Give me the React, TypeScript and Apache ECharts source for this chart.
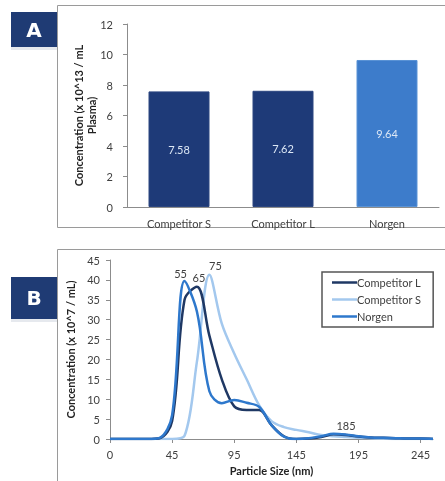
import React, { useEffect, useRef } from "react";
import * as echarts from "echarts";

// Panel A data
const barCategories = ["Competitor S", "Competitor L", "Norgen"];
const barValues = [7.58, 7.62, 9.64];
const barColors = ["#1E3A78", "#1E3A78", "#3D7CCB"];
const barYTicks = [0, 2, 4, 6, 8, 10, 12];

// Panel B data (particle size categories, nm)
const sizeCategories = [
  "0", "5", "15", "25", "35", "45", "55", "65", "75", "85", "95", "105", "115", "125",
  "135", "145", "155", "165", "175", "185", "195", "205", "215", "225", "235", "245", "255",
];
const competitorL = [
  0, 0, 0, 0, 0.2, 4.5, 35, 38.3, 26, 15, 8.2, 7.3, 7.3, 3.5,
  0.7, 0, 0.1, 0.5, 1.2, 1.0, 0.6, 0.4, 0.3, 0.2, 0.1, 0.1, 0,
];
const competitorS = [
  0, 0, 0, 0, 0, 0, 0.8, 19.5, 41.3, 29, 21.5, 15, 8.5, 4.5,
  3, 2.3, 1.7, 1.0, 0.7, 0.5, 0.3, 0.2, 0.1, 0, 0, 0, 0,
];
const norgen = [
  0, 0, 0, 0, 0.3, 6, 39.7, 32, 12, 9.0, 9.8, 9.1, 8.1, 3.5,
  0.6, 0, 0.2, 0.7, 1.3, 1.1, 0.7, 0.4, 0.3, 0.2, 0.1, 0.1, 0,
];
const lineYTicks = [0, 5, 10, 15, 20, 25, 30, 35, 40, 45];

const FONT = "Lato, 'Open Sans', sans-serif";

function withLabels(values: number[], labels: { [i: number]: number[] }) {
  return values.map((v, i) => {
    if (labels[i]) {
      return {
        value: v,
        label: {
          show: true,
          position: "top",
          distance: 4,
          formatter: "{b}",
          offset: labels[i],
          color: "#404040",
          fontSize: 11,
          fontFamily: FONT,
        },
      };
    }
    return v;
  });
}

const LEGEND_ICON = "path://M0,0 L25,0 L25,2.5 L0,2.5 Z";

export default function App() {
  const ref = useRef<HTMLDivElement>(null);
  useEffect(() => {
    if (!ref.current) return;
    const chart = echarts.init(ref.current, null, { renderer: "svg" });
    const axisLineColor = "#8c8c8c";
    const labelColor = "#404040";
    const lineSeries = (name: string, color: string, data: any[], z: number) => ({
      name,
      type: "line",
      xAxisIndex: 1,
      yAxisIndex: 1,
      symbol: "circle",
      symbolSize: 0,
      showSymbol: true,
      smooth: 0.35,
      lineStyle: { color, width: 2.5 },
      itemStyle: { color },
      label: { show: false },
      data,
      z,
    });
    chart.setOption({
      animation: false,
      textStyle: { fontFamily: FONT },
      graphic: [
        { type: "rect", shape: { x: 57.5, y: 5.5, width: 400, height: 222 }, style: { fill: "none", stroke: "#9a9a9a", lineWidth: 1 } },
        { type: "rect", shape: { x: 57.5, y: 249.5, width: 400, height: 240 }, style: { fill: "none", stroke: "#9a9a9a", lineWidth: 1 } },
        { type: "rect", shape: { x: 11, y: 12, width: 46, height: 35 }, style: { fill: "#1F3B74" } },
        { type: "rect", shape: { x: 11, y: 47, width: 46, height: 3 }, style: { fill: "#e6e9ee" } },
        { type: "text", x: 34, y: 30, style: { text: "A", fill: "#ffffff", font: "bold 20px 'DejaVu Sans', sans-serif", align: "center", verticalAlign: "middle" } },
        { type: "rect", shape: { x: 11, y: 277, width: 46, height: 42 }, style: { fill: "#1F3B74" } },
        { type: "rect", shape: { x: 11, y: 319, width: 46, height: 3 }, style: { fill: "#e6e9ee" } },
        { type: "text", x: 34, y: 298, style: { text: "B", fill: "#ffffff", font: "bold 20px 'DejaVu Sans', sans-serif", align: "center", verticalAlign: "middle" } },
      ],
      legend: {
        data: ["Competitor L", "Competitor S", "Norgen"],
        orient: "vertical",
        left: 322,
        top: 272,
        padding: [5, 12, 5, 10],
        itemGap: 6,
        itemWidth: 25,
        itemHeight: 3,
        icon: LEGEND_ICON,
        borderColor: "#555555",
        borderWidth: 1.5,
        textStyle: { color: labelColor, fontSize: 11, fontFamily: FONT, padding: [0, 0, 0, -5] },
      },
      grid: [
        { left: 127, top: 24, width: 312, height: 183 },
        { left: 110, top: 260, width: 323, height: 179 },
      ],
      xAxis: [
        {
          type: "category",
          gridIndex: 0,
          data: barCategories,
          axisLine: { lineStyle: { color: axisLineColor } },
          axisTick: { length: 4, lineStyle: { color: axisLineColor } },
          axisLabel: { color: labelColor, fontSize: 11, margin: 11, fontFamily: FONT },
        },
        {
          type: "category",
          gridIndex: 1,
          data: sizeCategories,
          boundaryGap: false,
          axisLine: { lineStyle: { color: axisLineColor } },
          axisTick: { length: 4, interval: 4, lineStyle: { color: axisLineColor } },
          axisLabel: { color: labelColor, fontSize: 11, margin: 10, interval: 4, fontFamily: FONT },
          name: "Particle Size (nm)",
          nameLocation: "middle",
          nameGap: 26,
          nameMoveOverlap: false,
          nameTextStyle: { color: "#222", fontSize: 11, fontWeight: "bold", fontFamily: FONT },
        },
      ],
      yAxis: [
        {
          type: "value",
          gridIndex: 0,
          min: barYTicks[0],
          max: barYTicks[barYTicks.length - 1],
          interval: 2,
          splitLine: { show: false },
          axisLine: { show: true, lineStyle: { color: axisLineColor } },
          axisTick: { show: true, length: 4, lineStyle: { color: axisLineColor } },
          axisLabel: { color: labelColor, fontSize: 11, margin: 14, fontFamily: FONT },
          name: "Concentration (x 10^13 / mL\nPlasma)",
          nameLocation: "middle",
          nameRotate: 90,
          nameGap: 29,
          nameMoveOverlap: false,
          nameTextStyle: { color: "#222", fontSize: 11, fontWeight: "bold", fontFamily: FONT, lineHeight: 13 },
        },
        {
          type: "value",
          gridIndex: 1,
          min: lineYTicks[0],
          max: lineYTicks[lineYTicks.length - 1],
          interval: 5,
          splitLine: { show: false },
          axisLine: { show: true, lineStyle: { color: axisLineColor } },
          axisTick: { show: true, length: 4, lineStyle: { color: axisLineColor } },
          axisLabel: { color: labelColor, fontSize: 11, margin: 10, fontFamily: FONT },
          name: "Concentration (x 10^7 / mL)",
          nameLocation: "middle",
          nameRotate: 90,
          nameGap: 34,
          nameMoveOverlap: false,
          nameTextStyle: { color: "#222", fontSize: 11, fontWeight: "bold", fontFamily: FONT },
        },
      ],
      series: [
        {
          type: "bar",
          xAxisIndex: 0,
          yAxisIndex: 0,
          barWidth: 61,
          data: barValues.map((v, i) => ({
            value: v,
            itemStyle: { color: barColors[i], borderColor: i === 2 ? "#5a93d6" : "#2c4680", borderWidth: 1 },
          })),
          label: { show: true, position: "inside", color: "#dce7f5", fontSize: 11, fontFamily: FONT },
        },
        lineSeries("Competitor L", "#1F3864", withLabels(competitorL, { 7: [2, 0] }), 4),
        lineSeries("Competitor S", "#A3C8EE", withLabels(competitorS, { 8: [6, 0] }), 3),
        lineSeries("Norgen", "#2E78CC", withLabels(norgen, { 6: [-4, 2], 19: [0, 0] }), 5),
      ],
    });
    return () => chart.dispose();
  }, []);
  return <div ref={ref} style={{ position: "fixed", left: 0, top: 0, width: 445, height: 481 }} />;
}
